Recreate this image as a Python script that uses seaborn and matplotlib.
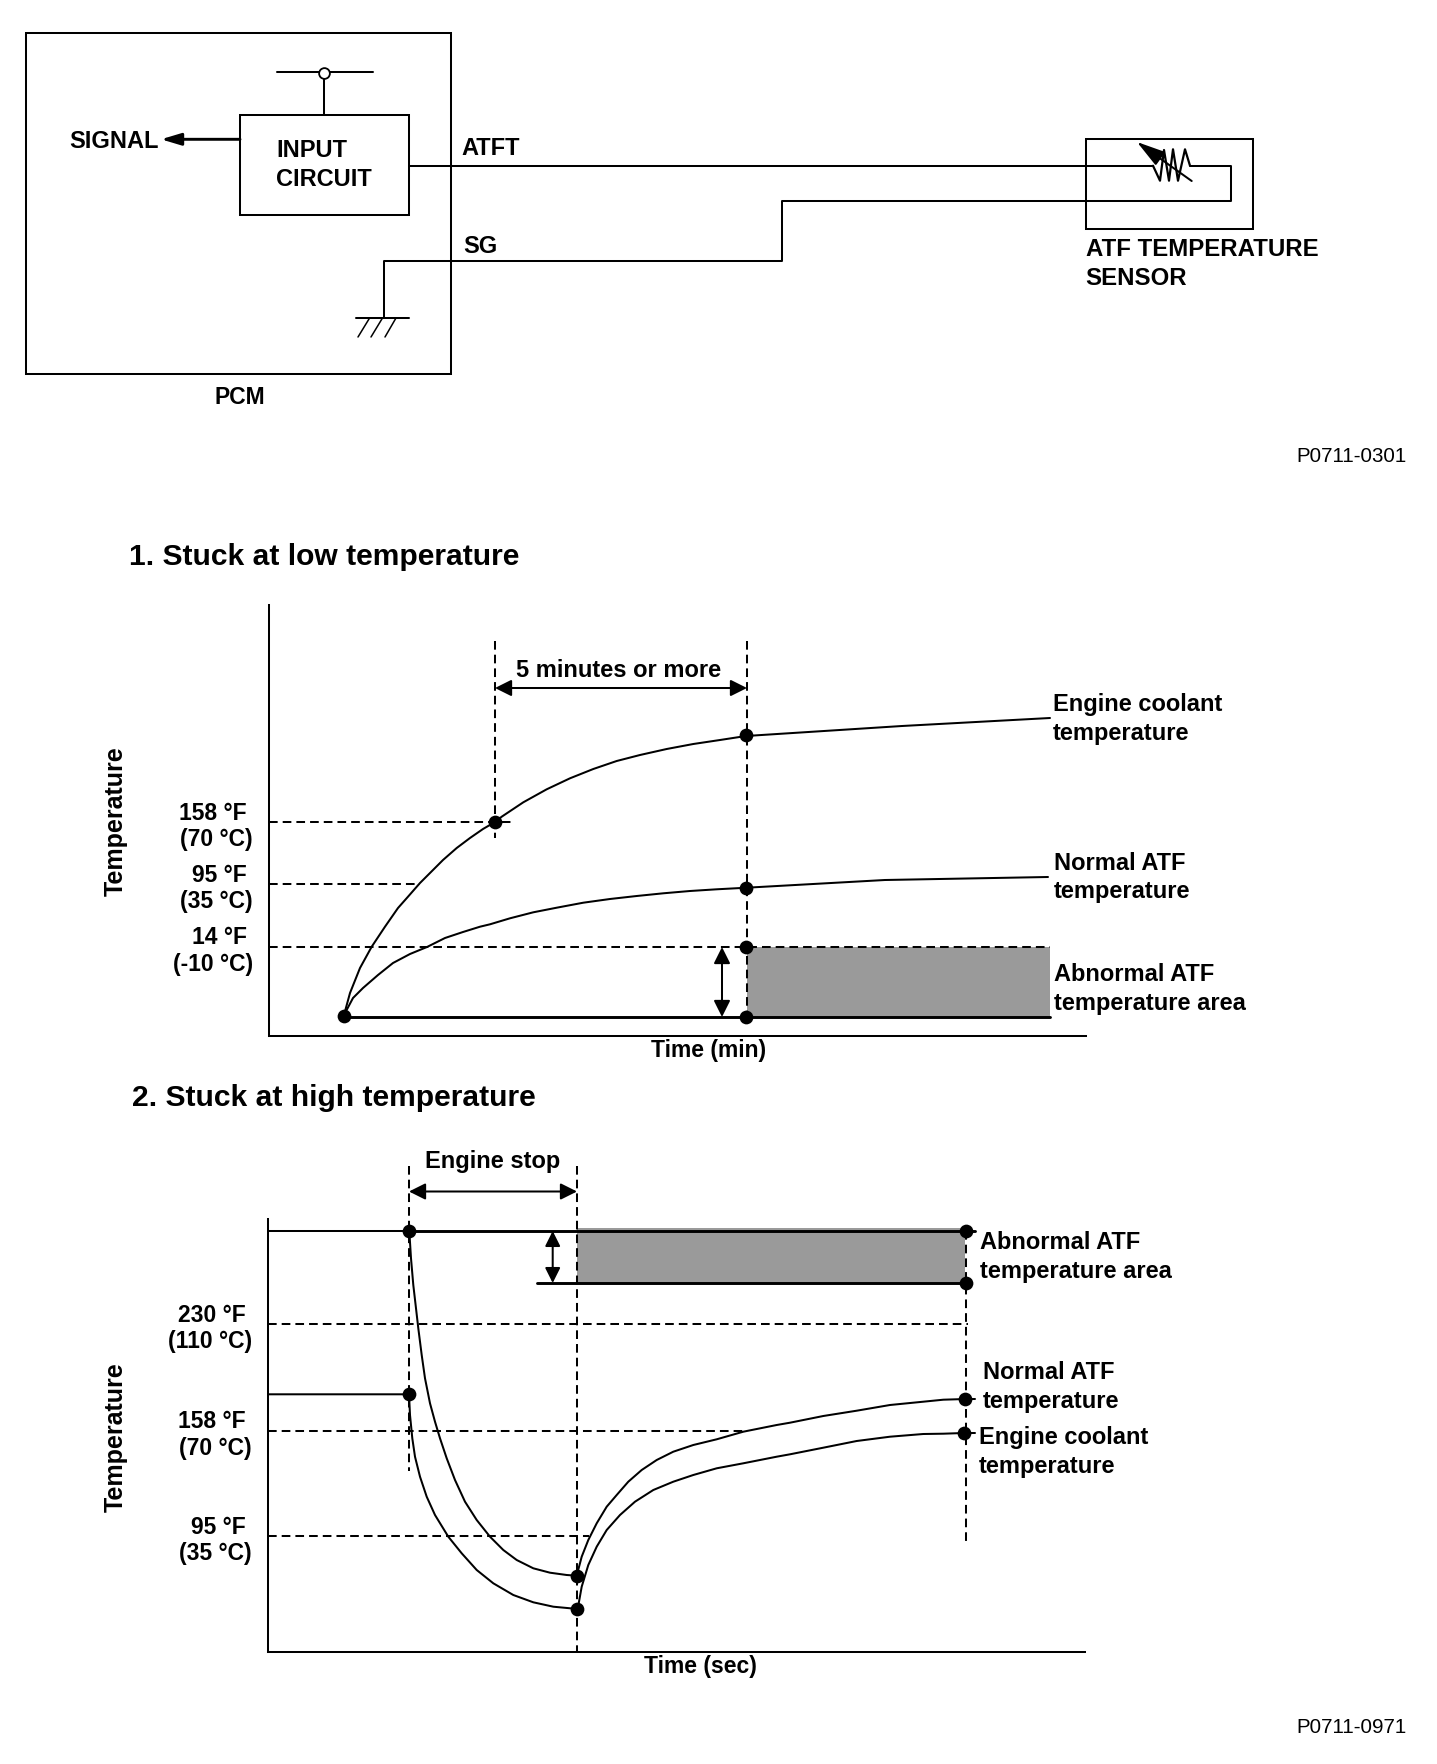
import matplotlib
matplotlib.use("Agg")
import matplotlib.pyplot as plt
from matplotlib.patches import Rectangle
import seaborn as sns

sns.set_theme(style="white")
plt.rcParams['font.family'] = ['Liberation Sans', 'DejaVu Sans']
plt.rcParams['font.weight'] = 'bold'

W, H = 1437, 1764

# --- wiring diagram (positions, px) ---
atft_x = [409, 1153]
atft_y = [165.7, 165.7]
atft_tail_x = [1190, 1231, 1231, 782, 782, 384.3, 384.3]
atft_tail_y = [165.7, 165.7, 201.3, 201.3, 261, 261, 317.7]
resistor_x = [1153, 1160, 1164, 1169, 1173, 1178, 1185, 1190]
resistor_y = [165.7, 180.7, 150, 180.7, 149.3, 180.7, 149.3, 165.7]
ground_x = [356, 409]
ground_y = [317.7, 317.7]
hatch_top_x = [369.6, 382.5, 396]
hatch_bottom_x = [358, 371, 385]
hatch_y = [318, 337]
supply_x = [277, 373]
supply_y = [71.7, 71.7]
stem_x = [324, 324]
stem_y = [77, 115]

# --- chart 1: stuck at low temperature ---
low_ticks = [822, 884, 947]
low_labels = ['158 °F \n(70 °C)', '95 °F \n(35 °C)', '14 °F \n(-10 °C)']
low_coolant_x = [344, 350, 360, 371.7, 385, 398, 408, 420, 443, 456.7, 470, 483, 495, 501.7, 523.3, 546.7,
                 570, 593.3, 616.7, 640, 666.7, 693.3, 720, 746, 902, 1050]
low_coolant_y = [1015, 993, 968, 946.7, 926.7, 908, 896.7, 883, 860, 848, 838, 829, 822, 816.7, 802.3, 789.3,
                 778.3, 769, 761, 755, 749, 744, 740, 736, 726, 718]
low_normal_x = [344, 353, 363, 378, 393, 410, 427, 445, 463, 480, 490, 510, 533.3, 556.7, 583.3, 610,
                636.7, 663.3, 690, 716.7, 746.7, 885, 1048]
low_normal_y = [1015, 998, 988, 975, 963, 954, 947, 938, 932, 926.7, 924.3, 918.3, 912.3, 907.7, 902.7, 899,
                896, 893.3, 891, 889.3, 887.7, 880, 877]
low_base_x = [344, 1050]
low_base_y = [1017, 1017]
low_area_x = [747, 1050]
low_area_top = [947, 947]
low_area_bottom = [1017, 1017]
low_dot_x = [344, 495.5, 746, 746, 746, 746]
low_dot_y = [1016, 822, 735, 888, 947, 1017]

# --- chart 2: stuck at high temperature ---
high_ticks = [1324, 1431, 1536]
high_labels = ['230 °F \n(110 °C)', '158 °F \n(70 °C)', '95 °F \n(35 °C)']
high_normal_x = [409.3, 411, 413.3, 416, 418.3, 421.7, 425, 430, 435, 440, 446.7, 455, 465, 476.7, 490, 503.3,
                 516.7, 533.3, 550, 566.7, 576.7, 581.7, 588.3, 596.7, 606.7, 616.7, 628.3, 641.7, 656.7,
                 673.3, 693.3, 716.7, 743.3, 776.7, 790, 823.3, 856.7, 890, 923.3, 943.3, 965.7, 975]
high_normal_y = [1231, 1258.3, 1285, 1308.3, 1328.3, 1355, 1378.3, 1403.3, 1421.7, 1438.3, 1458.3, 1480, 1501.7,
                 1520, 1536.7, 1550, 1560, 1568.3, 1572.7, 1575, 1575.7, 1556.7, 1540, 1523.3, 1506.7, 1495,
                 1481.7, 1470, 1460, 1451.7, 1445, 1439.3, 1431.7, 1425, 1422.7, 1416, 1410.7, 1405, 1401.7,
                 1399.7, 1399, 1399]
high_coolant_x = [268, 409, 410, 412.3, 415, 420, 426.7, 435, 448.3, 461.7, 476.7, 493.3, 513.3, 533.3, 553.3,
                  577.7, 581.7, 588.3, 596.7, 606.7, 620, 635, 653.3, 673.3, 693.3, 716.7, 743.3, 776.7, 790,
                  823.3, 856.7, 890, 923.3, 943.3, 964, 975]
high_coolant_y = [1394.3, 1394.3, 1415, 1438.3, 1456.7, 1476.7, 1496.7, 1515, 1536.7, 1553.3, 1570, 1583.3, 1595,
                  1602.3, 1606.7, 1609, 1586.7, 1565, 1546.7, 1530, 1515, 1501.7, 1490, 1481.7, 1475, 1468.3,
                  1463.3, 1456.7, 1454.3, 1447.7, 1441, 1436.7, 1434, 1433.7, 1433, 1433]
high_lead_x = [268, 409]
high_lead_y = [1230.5, 1230.5]
high_top_x = [409, 975]
high_top_y = [1230.7, 1230.7]
high_low_x = [537.5, 966]
high_low_y = [1283, 1283]
high_area_x = [577, 965]
high_area_top = [1228.3, 1228.3]
high_area_bottom = [1283, 1283]
high_dot_x = [409, 408.7, 577, 577.5, 966, 966, 965, 964.5]
high_dot_y = [1230.5, 1394, 1575.7, 1609, 1230.7, 1282.7, 1399, 1433]

DASH = (0, (4.3, 2.5))
THIN = 1.45
THICK = 2.1
GREY = '#9a9a9a'


def line(ax, x, y, lw=THIN, dashed=False, **kw):
    if dashed:
        kw['linestyle'] = DASH
    sns.lineplot(x=x, y=y, ax=ax, sort=False, estimator=None, errorbar=None,
                 color='black', linewidth=lw, **kw)


def arrow(ax, x0, y0, x1, y1, style='<|-|>', lw=THIN, size=25):
    ax.annotate('', xy=(x1, y1), xytext=(x0, y0),
                arrowprops=dict(arrowstyle=style, color='black', lw=lw, shrinkA=0, shrinkB=0,
                                mutation_scale=size))


def dots(ax, x, y):
    sns.scatterplot(x=x, y=y, ax=ax, color='black', s=98, linewidth=0, zorder=5, clip_on=False)


def label(ax, x, y, s, size=17, ha='left', **kw):
    # va center sits a little high for this font
    ax.text(x, y + 2.2, s, fontsize=size, ha=ha, va='center', color='black', **kw)


def chart_axes(left, right, top, bottom):
    ax = fig.add_axes([left / W, 1 - bottom / H, (right - left) / W, (bottom - top) / H])
    ax.set_xlim(left, right)
    ax.set_ylim(bottom, top)
    ax.patch.set_alpha(0)
    sns.despine(ax=ax)
    for side in ['left', 'bottom']:
        ax.spines[side].set_color('black')
        ax.spines[side].set_linewidth(THIN)
    ax.set_xticks([])
    return ax


def finish_axis(ax, ticks, labels, xlabel, xlabel_pos, ylabel_y):
    ax.set_yticks(ticks, labels)
    ax.tick_params(axis='y', length=0, pad=11.5, labelsize=16.5, labelcolor='black')
    for t in ax.get_yticklabels():
        t.set_multialignment('right')
    left, right = ax.get_xlim()
    # seaborn hides the label when the axis has no ticks, so ask for it back
    ax.set_xlabel(xlabel, fontsize=16.5, x=(xlabel_pos - left) / (right - left), ha='center',
                  labelpad=2, fontweight='bold', color='black', visible=True)
    ax.set_ylabel('Temperature', fontsize=18, va='center', fontweight='bold', color='black')
    ax.yaxis.set_label_coords(116, ylabel_y, transform=ax.transData)


fig = plt.figure(figsize=(W / 100, H / 100), dpi=100)

# page axes in image pixels, holds the wiring diagram and the headings
page = fig.add_axes([0, 0, 1, 1])
page.set_xlim(0, W)
page.set_ylim(H, 0)
page.axis('off')

page.add_patch(Rectangle((26, 33), 425, 341, fill=False, ec='black', lw=THIN))
page.add_patch(Rectangle((240, 115), 169, 100, fill=False, ec='black', lw=THIN))
page.add_patch(Rectangle((1085.7, 139), 167.3, 90, fill=False, ec='black', lw=THIN))

line(page, atft_x, atft_y)
line(page, atft_tail_x, atft_tail_y)
line(page, resistor_x, resistor_y, lw=1.6)
line(page, ground_x, ground_y)
for top_x, bottom_x in zip(hatch_top_x, hatch_bottom_x):
    line(page, [top_x, bottom_x], hatch_y, lw=1.1)
line(page, supply_x, supply_y)
line(page, stem_x, stem_y)
sns.scatterplot(x=[324], y=[72.7], ax=page, color='white', edgecolor='black', s=60, linewidth=1.3, zorder=5)

arrow(page, 240, 139.3, 161, 139.3, style='-|>,head_length=0.6,head_width=0.18', lw=2.1, size=20)
arrow(page, 1191.7, 181, 1137, 142, style='-|>,head_length=0.7,head_width=0.2', lw=THIN, size=25)

label(page, 69, 139.5, 'SIGNAL', size=17)
label(page, 276, 148, 'INPUT', size=17)
label(page, 276, 177, 'CIRCUIT', size=17)
label(page, 461, 146, 'ATFT', size=17)
label(page, 463, 244, 'SG', size=17)
label(page, 240, 395.5, 'PCM', size=16.5, ha='center')
label(page, 1085.7, 247.5, 'ATF TEMPERATURE', size=17.3)
label(page, 1085.7, 276.5, 'SENSOR', size=17.3)
label(page, 1407, 454, 'P0711-0301', size=14.8, ha='right', fontweight='normal')
label(page, 1407, 1725, 'P0711-0971', size=14.8, ha='right', fontweight='normal')
label(page, 129, 555, '1. Stuck at low temperature', size=21.6)
label(page, 132, 1096, '2. Stuck at high temperature', size=21.6)

# chart 1
ax1 = chart_axes(269, 1086, 605, 1036)
ax1.fill_between(low_area_x, low_area_top, low_area_bottom, color=GREY, linewidth=0)
line(ax1, low_coolant_x, low_coolant_y)
line(ax1, low_normal_x, low_normal_y)
line(ax1, low_base_x, low_base_y, lw=THICK)
line(ax1, [269, 515], [822, 822], dashed=True)
line(ax1, [269, 420], [884, 884], dashed=True)
line(ax1, [269, 1050], [947, 947], dashed=True)
line(ax1, [495, 495], [641, 838], dashed=True)
line(ax1, [747, 747], [641, 1017], dashed=True)
arrow(ax1, 495, 688, 747, 688)
arrow(ax1, 722, 947, 722, 1017)
dots(ax1, low_dot_x, low_dot_y)
label(ax1, 618.5, 668, '5 minutes or more', size=17, ha='center')
label(ax1, 1053, 702, 'Engine coolant')
label(ax1, 1053, 731, 'temperature')
label(ax1, 1054, 861, 'Normal ATF')
label(ax1, 1054, 889, 'temperature')
label(ax1, 1054, 972, 'Abnormal ATF')
label(ax1, 1054, 1001, 'temperature area')
finish_axis(ax1, low_ticks, low_labels, 'Time (min)', 709, 821)

# chart 2
ax2 = chart_axes(268, 1085, 1160, 1652)
ax2.spines['left'].set_bounds(1219, 1652)
ax2.fill_between(high_area_x, high_area_top, high_area_bottom, color=GREY, linewidth=0)
line(ax2, high_lead_x, high_lead_y)
line(ax2, high_normal_x, high_normal_y)
line(ax2, high_coolant_x, high_coolant_y)
line(ax2, high_top_x, high_top_y, lw=THICK)
line(ax2, high_low_x, high_low_y, lw=THICK)
line(ax2, [268, 968], [1324, 1324], dashed=True)
line(ax2, [268, 744], [1431, 1431], dashed=True)
line(ax2, [268, 589], [1536, 1536], dashed=True)
line(ax2, [409, 409], [1166, 1471], dashed=True)
line(ax2, [577, 577], [1166, 1652], dashed=True)
line(ax2, [966, 966], [1231, 1543], dashed=True)
arrow(ax2, 409, 1191.5, 577, 1191.5)
arrow(ax2, 552.7, 1231, 552.7, 1283, size=23)
dots(ax2, high_dot_x, high_dot_y)
label(ax2, 493, 1159, 'Engine stop', size=17, ha='center')
label(ax2, 979.6, 1240, 'Abnormal ATF')
label(ax2, 979.6, 1269, 'temperature area')
label(ax2, 983, 1370, 'Normal ATF')
label(ax2, 983, 1399, 'temperature')
label(ax2, 979, 1435, 'Engine coolant')
label(ax2, 979, 1464, 'temperature')
finish_axis(ax2, high_ticks, high_labels, 'Time (sec)', 700, 1437)

fig.savefig('out.png', dpi=100, facecolor='white')
